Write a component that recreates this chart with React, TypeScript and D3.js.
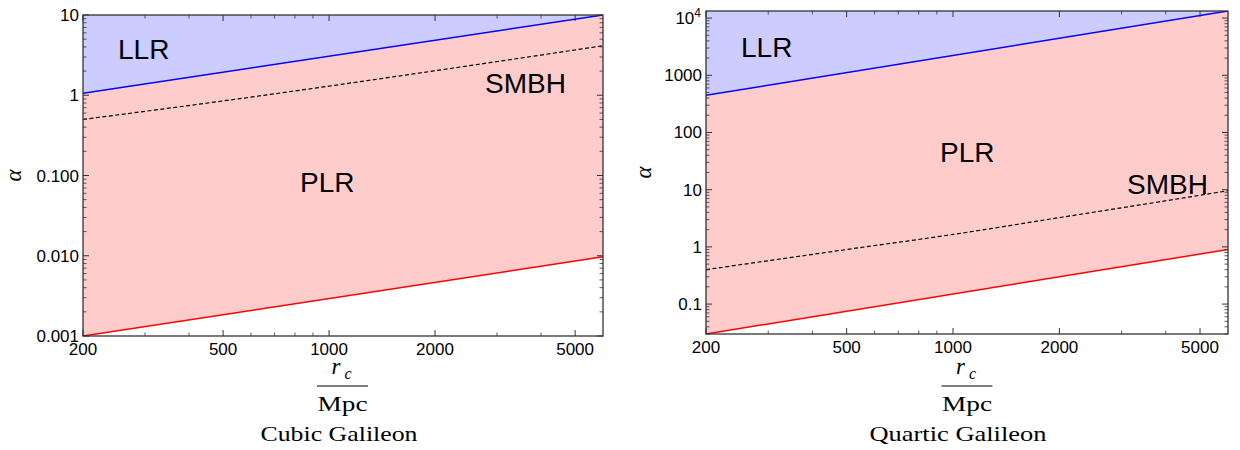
import React from "react";
import * as d3 from "d3";

// r_c / Mpc sample points
const rEnds = [200, 6000];
const rSmbh = [200, 500, 1000, 2000, 4000, 6000];

// Cubic Galileon
const cubicLLR = [1.06, 10];
const cubicLower = [0.001, 0.0097];
const cubicSMBH = [0.5, 0.85, 1.3, 2.02, 3.17, 4.14];
const cubicYTicks = [0.001, 0.01, 0.1, 1, 10];
const cubicYLabels = ["0.001", "0.010", "0.100", "1", "10"];

// Quartic Galileon
const quarticLLR = [447, 13300];
const quarticLower = [0.03, 0.9];
const quarticSMBH = [0.4, 0.9, 1.65, 3.25, 6.4, 9.6];
const quarticYTicks = [0.1, 1, 10, 100, 1000, 10000];
const quarticYLabels = ["0.1", "1", "10", "100", "1000", "10^4"];

const xTicks = [200, 500, 1000, 2000, 5000];
const xTickLabels = ["200", "500", "1000", "2000", "5000"];

const SANS = "'Liberation Sans', Arial, sans-serif";
const SERIF = "'Liberation Serif', 'Times New Roman', serif";
const FRAME = "#333";

type PanelCfg = {
  id: string;
  left: number; right: number; top: number; bottom: number;
  yDomain: [number, number];
  llr: number[]; lower: number[]; smbh: number[];
  yTicks: number[]; yLabels: string[];
  labelLLR: [number, number]; labelPLR: [number, number]; labelSMBH: [number, number];
  alphaPos: [number, number];
  fracX: number;
  title: string; titleX: number; titleLen: number;
};

const panels: PanelCfg[] = [
  {
    id: "cubic", left: 83, right: 603, top: 15, bottom: 336,
    yDomain: [0.001, 10],
    llr: cubicLLR, lower: cubicLower, smbh: cubicSMBH,
    yTicks: cubicYTicks, yLabels: cubicYLabels,
    labelLLR: [118, 59], labelPLR: [300, 192], labelSMBH: [485, 93],
    alphaPos: [13, 175.5], fracX: 342.5,
    title: "Cubic Galileon", titleX: 339, titleLen: 157,
  },
  {
    id: "quartic", left: 706, right: 1228, top: 11, bottom: 334,
    yDomain: [0.03, 13300],
    llr: quarticLLR, lower: quarticLower, smbh: quarticSMBH,
    yTicks: quarticYTicks, yLabels: quarticYLabels,
    labelLLR: [741, 57], labelPLR: [940, 162], labelSMBH: [1127, 194],
    alphaPos: [643, 172.5], fracX: 967,
    title: "Quartic Galileon", titleX: 958, titleLen: 177,
  },
];

const Panel = ({ cfg }: { cfg: PanelCfg }) => {
  const x = d3.scaleLog().domain([rEnds[0], rEnds[1]]).range([cfg.left, cfg.right]);
  const y = d3.scaleLog().domain(cfg.yDomain).range([cfg.bottom, cfg.top]);

  const ends = rEnds.map((r, i) => ({ r, llr: cfg.llr[i], lower: cfg.lower[i] }));
  const smbh = rSmbh.map((r, i) => ({ r, a: cfg.smbh[i] }));

  const blueArea = d3.area<any>()
    .x(d => x(d.r))
    .y0(cfg.top)
    .y1(d => y(d.llr))(ends);
  const pinkArea = d3.area<any>()
    .x(d => x(d.r))
    .y0(d => y(d.lower))
    .y1(d => y(d.llr))(ends);
  const blueLine = d3.line<any>().x(d => x(d.r)).y(d => y(d.llr))(ends);
  const redLine = d3.line<any>().x(d => x(d.r)).y(d => y(d.lower))(ends);
  const smbhLine = d3.line<any>().x(d => x(d.r)).y(d => y(d.a)).curve(d3.curveMonotoneX)(smbh);

  const xMinor = x.ticks().filter(t => !xTicks.includes(t) && t > rEnds[0] && t < rEnds[1]);
  const yMinor = y.ticks().filter(t => !cfg.yTicks.some(m => Math.abs(m - t) / m < 1e-6));

  const major = 6;
  const minor = 3.5;

  return (
    <g>
      <defs>
        <clipPath id={`clip-${cfg.id}`}>
          <rect x={cfg.left} y={cfg.top} width={cfg.right - cfg.left} height={cfg.bottom - cfg.top} />
        </clipPath>
      </defs>
      <g clipPath={`url(#clip-${cfg.id})`}>
        <path d={blueArea || ""} fill="#ccccff" />
        <path d={pinkArea || ""} fill="#ffcccc" />
        <path d={blueLine || ""} fill="none" stroke="#0000ff" strokeWidth={1.5} />
        <path d={redLine || ""} fill="none" stroke="#ff0000" strokeWidth={1.5} />
        <path d={smbhLine || ""} fill="none" stroke="#000" strokeWidth={1.2} strokeDasharray="4,2.5" />
      </g>

      {/* ticks on all four sides, pointing inward */}
      <g stroke={FRAME}>
        {xTicks.map(t => (
          <g key={`xt${t}`}>
            <line x1={x(t)} x2={x(t)} y1={cfg.bottom} y2={cfg.bottom - major} strokeWidth={1} />
            <line x1={x(t)} x2={x(t)} y1={cfg.top} y2={cfg.top + major} strokeWidth={1} />
          </g>
        ))}
        {xMinor.map(t => (
          <g key={`xm${t}`}>
            <line x1={x(t)} x2={x(t)} y1={cfg.bottom} y2={cfg.bottom - minor} strokeWidth={0.8} />
            <line x1={x(t)} x2={x(t)} y1={cfg.top} y2={cfg.top + minor} strokeWidth={0.8} />
          </g>
        ))}
        {cfg.yTicks.map(t => (
          <g key={`yt${t}`}>
            <line x1={cfg.left} x2={cfg.left + major} y1={y(t)} y2={y(t)} strokeWidth={1} />
            <line x1={cfg.right} x2={cfg.right - major} y1={y(t)} y2={y(t)} strokeWidth={1} />
          </g>
        ))}
        {yMinor.map(t => (
          <g key={`ym${t}`}>
            <line x1={cfg.left} x2={cfg.left + minor} y1={y(t)} y2={y(t)} strokeWidth={0.8} />
            <line x1={cfg.right} x2={cfg.right - minor} y1={y(t)} y2={y(t)} strokeWidth={0.8} />
          </g>
        ))}
      </g>
      <rect x={cfg.left} y={cfg.top} width={cfg.right - cfg.left} height={cfg.bottom - cfg.top}
        fill="none" stroke={FRAME} strokeWidth={1.3} />

      {/* tick labels */}
      <g fontFamily={SANS} fontSize={17} fill="#000">
        {xTicks.map((t, i) => (
          <text key={`xl${t}`} x={x(t)} y={cfg.bottom + 19} textAnchor="middle">{xTickLabels[i]}</text>
        ))}
        {cfg.yTicks.map((t, i) => {
          const lab = cfg.yLabels[i];
          if (lab.includes("^")) {
            const [base, exp] = lab.split("^");
            return (
              <text key={`yl${t}`} x={cfg.left - 5} y={y(t) + 6} textAnchor="end">
                {base}<tspan fontSize={12} dy={-7}>{exp}</tspan>
              </text>
            );
          }
          return (
            <text key={`yl${t}`} x={cfg.left - 4} y={y(t) + 6} textAnchor="end">{lab}</text>
          );
        })}
      </g>

      {/* region labels */}
      <g fontFamily={SANS} fontSize={28} fill="#000">
        <text x={cfg.labelLLR[0]} y={cfg.labelLLR[1]}>LLR</text>
        <text x={cfg.labelPLR[0]} y={cfg.labelPLR[1]}>PLR</text>
        <text x={cfg.labelSMBH[0]} y={cfg.labelSMBH[1]}>SMBH</text>
      </g>

      {/* axis labels */}
      <text transform={`translate(${cfg.alphaPos[0]},${cfg.alphaPos[1]}) rotate(-90)`}
        fontFamily={SERIF} fontStyle="italic" fontSize={23} textAnchor="middle"
        dominantBaseline="central">α</text>
      <g fontFamily={SERIF} fill="#000">
        <text x={cfg.fracX - 11} y={374} fontStyle="italic" fontSize={23}>r</text>
        <text x={cfg.fracX + 2} y={379} fontStyle="italic" fontSize={16}>c</text>
        <line x1={cfg.fracX - 25.5} x2={cfg.fracX + 25.5} y1={386} y2={386} stroke="#000" strokeWidth={1} />
        <text x={cfg.fracX} y={411} fontSize={22} textAnchor="middle" textLength={50} lengthAdjust="spacingAndGlyphs">Mpc</text>
        <text x={cfg.titleX} y={441} fontSize={22} textAnchor="middle" textLength={cfg.titleLen} lengthAdjust="spacingAndGlyphs">{cfg.title}</text>
      </g>
    </g>
  );
};

export default function App() {
  return (
    <svg width={1240} height={450} style={{ position: "absolute", left: 0, top: 0, background: "#fff" }}>
      {panels.map(p => <Panel key={p.id} cfg={p} />)}
    </svg>
  );
}
